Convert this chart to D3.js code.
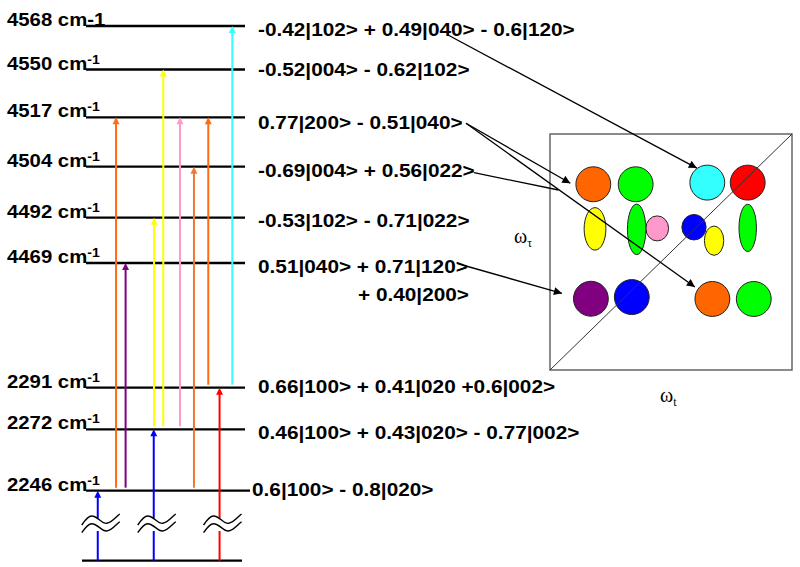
<!DOCTYPE html>
<html><head><meta charset="utf-8">
<script src="https://cdn.jsdelivr.net/npm/d3@7"></script>
<style>body{margin:0;background:#fff}</style>
</head><body><svg id="c" width="800" height="567"></svg>
<script>
// ---------------- data ----------------
const levelEnergies = [0, 2246, 2272, 2291, 4469, 4492, 4504, 4517, 4550, 4568];
const levelLabels   = ["", "2246", "2272", "2291", "4469", "4492", "4504", "4517", "4550", "4568"];
const levelSupUnit  = [false, true, true, true, true, true, true, true, true, false];
const stateLabels = ["",
  "0.6|100> - 0.8|020>",
  "0.46|100> + 0.43|020> - 0.77|002>",
  "0.66|100> + 0.41|020 +0.6|002>",
  "0.51|040> + 0.71|120>",
  "-0.53|102> - 0.71|022>",
  "-0.69|004> + 0.56|022>",
  "0.77|200> - 0.51|040>",
  "-0.52|004> - 0.62|102>",
  "-0.42|102> + 0.49|040> - 0.6|120>"];
const stateLabelContinued = "+ 0.40|200>";

// transitions (from energy -> to energy), lane across the level diagram
const transFrom  = [0, 0, 0, 2246, 2246, 2272, 2272, 2272, 2246, 2291, 2291];
const transTo    = [2246, 2272, 2291, 4517, 4469, 4492, 4550, 4517, 4504, 4517, 4568];
const transLane  = [7.4, 42.6, 84, 18.9, 24.9, 42.8, 48.6, 59.1, 67.9, 76.9, 92];
const transColor = ["#0000ff", "#0000ff", "#ff0000", "#ff6a13", "#800080", "#ffff00",
                    "#ffff00", "#ff99cc", "#ee7a30", "#ff6a13", "#33ffff"];

// 2D spectrum peaks (omega_t, omega_tau in box units 0-100, half widths)
const peakT    = [17.9, 35.4, 65.0, 81.7, 18.6, 44.3, 35.8, 59.5, 67.8, 81.7, 16.9, 33.8, 67.1, 84.2];
const peakTau  = [78.7, 78.7, 79.4, 79.4, 59.8, 60.0, 59.6, 60.5, 54.8, 60.2, 30.2, 30.9, 30.1, 30.1];
const peakWT   = [7.2, 7.2, 7.2, 7.2, 4.5, 4.7, 3.8, 5.0, 4.0, 3.6, 7.2, 7.2, 7.2, 7.2];
const peakWTau = [7.4, 7.4, 7.4, 7.4, 9.0, 5.3, 10.7, 5.4, 6.2, 10.0, 7.4, 7.4, 7.4, 7.4];
const peakColor = ["#ff6600", "#00ff00", "#33ffff", "#ff0000", "#ffff00", "#ff99cc", "#00ff00",
                   "#0000ff", "#ffff00", "#00ff00", "#800080", "#0000ff", "#ff6600", "#00ff00"];

// ---------------- layout ----------------
const svg = d3.select("#c");
const y = d3.scaleLinear().domain(levelEnergies)
  .range([560.7, 490.7, 429.3, 387.7, 263, 217.7, 166.7, 117.3, 69.5, 26]);
const lane = d3.scaleLinear().domain([0, 100]).range([86, 245]);
const labelNudge = [0, 5.5, 9.5, 5.5, 10, 9, 10.5, 12, 6.5, 10];
const FONT = "'Liberation Sans', Arial, sans-serif";

function btext(x, yy, str, sx, size) {
  return svg.append("text")
    .attr("transform", `translate(${x},${yy}) scale(${sx},1)`)
    .attr("font-family", FONT).attr("font-weight", "bold")
    .attr("font-size", size || 18).attr("fill", "#000").text(str);
}

// level lines
levelEnergies.forEach((e, i) => {
  const x1 = i === 0 ? 82 : 86;
  const x2 = i === 0 ? 242 : (i === 1 ? 250 : 245);
  svg.append("line").attr("x1", x1).attr("x2", x2)
    .attr("y1", y(e)).attr("y2", y(e))
    .attr("stroke", "#000").attr("stroke-width", 2.3);
});

// left energy labels
levelEnergies.forEach((e, i) => {
  if (!levelLabels[i]) return;
  const t = btext(7, y(e), levelLabels[i] + " cm" + (levelSupUnit[i] ? "" : "-1"), 1.13);
  if (levelSupUnit[i]) {
    t.append("tspan").attr("font-size", 12.5).attr("dy", -6).text("-1");
  }
});

// right state labels
levelEnergies.forEach((e, i) => {
  if (!stateLabels[i]) return;
  btext(i === 1 ? 252 : 258, y(e) + labelNudge[i], stateLabels[i], 1.155);
});
btext(358, y(4469) + 38, stateLabelContinued, 1.155);

// transition arrows
transFrom.forEach((f, i) => {
  const x = lane(transLane[i]);
  const y0 = f === 0 ? y(0) : y(f) - 3;
  const y1 = y(transTo[i]);
  svg.append("line").attr("x1", x).attr("x2", x).attr("y1", y0).attr("y2", y1 + 6)
    .attr("stroke", transColor[i]).attr("stroke-width", 2);
  svg.append("path")
    .attr("d", `M${x},${y1}L${x - 3.5},${y1 + 7}L${x + 3.5},${y1 + 7}Z`)
    .attr("fill", transColor[i]);
});

// axis breaks (wavy marks) on the ground-state arrows
const tilde = "M0,11 C4,5 7,2 10,2 C16,2 20,10 25,9.3 C30,8.6 34,3 38,0";
transFrom.forEach((f, i) => {
  if (f !== 0) return;
  const x = lane(transLane[i]);
  const g = svg.append("g").attr("transform", `translate(${x - 16},514)`);
  g.append("rect").attr("x", 13).attr("y", 4).attr("width", 6).attr("height", 13).attr("fill", "#fff");
  g.append("path").attr("d", tilde).attr("fill", "none").attr("stroke", "#000").attr("stroke-width", 1.4);
  g.append("path").attr("d", tilde).attr("transform", "translate(0,7.7)")
    .attr("fill", "none").attr("stroke", "#000").attr("stroke-width", 1.4);
});

// 2D spectrum box
const bx = d3.scaleLinear().domain([0, 100]).range([550, 792]);
const by = d3.scaleLinear().domain([0, 100]).range([370, 134]);
svg.append("rect").attr("x", bx(0)).attr("y", by(100))
  .attr("width", bx(100) - bx(0)).attr("height", by(0) - by(100))
  .attr("fill", "#fff").attr("stroke", "#666").attr("stroke-width", 1.5);

peakT.forEach((t, i) => {
  svg.append("ellipse")
    .attr("cx", bx(t)).attr("cy", by(peakTau[i]))
    .attr("rx", bx(peakWT[i]) - bx(0)).attr("ry", by(0) - by(peakWTau[i]))
    .attr("fill", peakColor[i]).attr("stroke", "#222").attr("stroke-width", 1);
});
svg.append("line").attr("x1", bx(0)).attr("y1", by(0)).attr("x2", bx(100)).attr("y2", by(100))
  .attr("stroke", "#333").attr("stroke-width", 1);

// axis labels
function omega(x, yy, sub) {
  const t = svg.append("text").attr("x", x).attr("y", yy)
    .attr("font-family", "'Liberation Serif', 'Times New Roman', serif").attr("font-size", 20).text("ω");
  t.append("tspan").attr("font-size", 12).attr("dy", 4).text(sub);
}
omega(514, 243, "τ");
omega(660, 402, "t");

// annotation arrows from state labels to peaks
const defs = svg.append("defs");
defs.append("marker").attr("id", "ah").attr("viewBox", "0 0 10 10").attr("refX", 10).attr("refY", 5)
  .attr("markerWidth", 10).attr("markerHeight", 8).attr("markerUnits", "userSpaceOnUse")
  .attr("orient", "auto")
  .append("path").attr("d", "M0,0L10,5L0,10Z").attr("fill", "#000");

function link(x1, y1, x2, y2, head) {
  const l = svg.append("line").attr("x1", x1).attr("y1", y1).attr("x2", x2).attr("y2", y2)
    .attr("stroke", "#000").attr("stroke-width", 1.3);
  if (head) l.attr("marker-end", "url(#ah)");
}
link(448, 35, bx(peakT[2]) - 10.5, by(peakTau[2]) - 14.5, true);
link(466, 123.3, bx(peakT[0]) - 23, by(peakTau[0]) - 1, true);
link(466, 123.3, bx(peakT[12]) - 17.5, by(peakTau[12]) - 12, true);
link(474, 172.7, 558.5, 190, false);
link(466, 266, bx(peakT[10]) - 29, by(peakTau[10]) - 5.4, true);
</script>
</body></html>
